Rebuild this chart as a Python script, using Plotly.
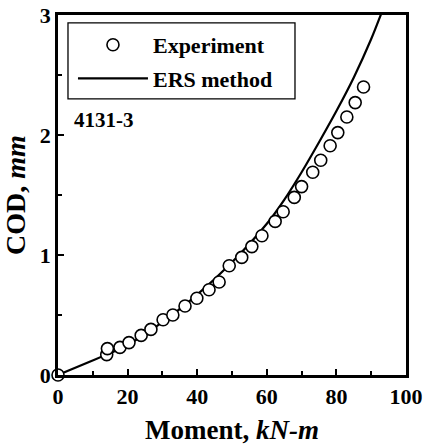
import plotly.graph_objects as go

# Experimental data (Moment kN-m, COD mm)
exp_moment = [0, 14.0, 14.2, 17.8, 20.4, 23.9, 26.7, 30.2, 33.0, 36.5, 39.9, 43.4, 46.3,
              49.2, 52.8, 55.7, 58.6, 62.4, 64.7, 67.9, 70.0, 73.2, 75.5, 78.2, 80.4,
              83.0, 85.4, 87.8]
exp_cod = [0, 0.17, 0.22, 0.23, 0.27, 0.33, 0.38, 0.46, 0.50, 0.575, 0.64, 0.71, 0.775,
           0.91, 0.98, 1.07, 1.16, 1.28, 1.36, 1.48, 1.57, 1.69, 1.79, 1.91, 2.02,
           2.15, 2.27, 2.40]

# ERS method curve
ers_moment = [0, 14, 20, 30, 40, 50, 60, 65, 70, 75, 80, 85, 90, 93]
ers_cod = [0, 0.17, 0.25, 0.44, 0.67, 0.94, 1.26, 1.46, 1.69, 1.94, 2.20, 2.48, 2.80, 3.02]

x_ticks = [0, 20, 40, 60, 80, 100]
y_ticks = [0, 1, 2, 3]

FONT = "Liberation Serif"

fig = go.Figure()
fig.add_trace(go.Scatter(
    x=ers_moment, y=ers_cod, mode="lines", name="ERS method",
    line=dict(color="black", width=2.2, shape="spline", smoothing=0.8),
    legendgroup="b", legendrank=2,
))
fig.add_trace(go.Scatter(
    x=exp_moment, y=exp_cod, mode="markers", name="Experiment",
    marker=dict(symbol="circle", size=12, color="white", line=dict(color="black", width=1.6)),
    cliponaxis=False, legendgroup="a", legendrank=1,
))

axis_common = dict(
    showline=True, linecolor="black", linewidth=2.5, mirror=True,
    ticks="inside", ticklen=6, tickwidth=2, tickcolor="black",
    showgrid=False, zeroline=False, automargin=False,
    tickfont=dict(family=FONT, size=22, color="black", weight="bold"),
    minor=dict(ticks="inside", ticklen=4, tickwidth=1.5, tickcolor="black"),
)

fig.update_xaxes(
    range=[0, 100], tickvals=x_ticks, ticktext=[str(v) for v in x_ticks],
    minor_dtick=10, minor_tick0=0,
    title=dict(text="Moment, <i>kN-m</i>", font=dict(family=FONT, size=27, color="black", weight="bold"), standoff=12),
    **axis_common,
)
fig.update_yaxes(
    range=[0, 3], tickvals=y_ticks, ticktext=[str(v) for v in y_ticks],
    minor_dtick=0.5, minor_tick0=0,
    title=dict(text="COD, <i>mm</i>", font=dict(family=FONT, size=28, color="black", weight="bold"), standoff=12),
    **axis_common,
)

fig.add_annotation(
    text="4131-3", xref="paper", yref="paper", x=0.04, y=0.708,
    xanchor="left", yanchor="middle", showarrow=False,
    font=dict(family=FONT, size=21, color="black", weight="bold"),
)

# legend frame
fig.add_shape(
    type="rect", xref="paper", yref="paper",
    x0=0.0287, x1=0.681, y0=0.767, y1=0.978,
    line=dict(color="black", width=1.3), fillcolor="rgba(0,0,0,0)", layer="above",
)

fig.update_layout(
    width=424, height=446,
    margin=dict(l=58, r=18, t=15, b=71),
    paper_bgcolor="white", plot_bgcolor="white",
    showlegend=True,
    legend=dict(
        x=0.043, y=0.975, xanchor="left", yanchor="top",
        borderwidth=0, bgcolor="rgba(0,0,0,0)",
        font=dict(family=FONT, size=22, color="black", weight="bold"),
        tracegroupgap=2, itemwidth=70,
    ),
)

fig.write_html("out.html", config={"displayModeBar": False},
               post_script="document.body.style.margin='0px';")
